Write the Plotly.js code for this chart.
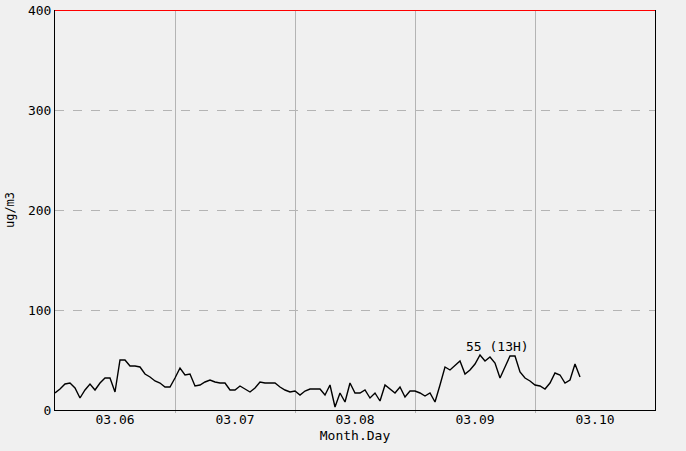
<!DOCTYPE html>
<html>
<head>
<meta charset="utf-8">
<script src="https://cdn.plot.ly/plotly-3.0.1.min.js"></script>
<style>html,body{margin:0;padding:0;background:#f0f0f0;}#chart{width:686px;height:451px;}</style>
</head>
<body>
<div id="chart"></div>
<script>
// hourly values starting at 03.06 00H
const hours = [];
const values = [17,21,26,27,22,12,20,26,20,27,32,32,18,50,50,44,44,43,36,33,29,27,23,23,
  32,42,35,36,24,25,28,30,28,27,27,20,20,24,21,18,22,28,27,27,27,23,20,18,
  19,15,19,21,21,21,15,25,3,17,8,27,17,17,20,12,17,9,25,21,17,23,13,19,
  19,17,14,17,8,25,43,40,45,49,36,40,46,55,49,53,47,32,43,54,54,38,32,29,
  25,24,21,27,37,35,27,30,46,33];
for (let i = 0; i < values.length; i++) hours.push(i);
const dayLabels = ['03.06','03.07','03.08','03.09','03.10'];
const dayCenters = [12,36,60,84,108];
const dayBounds = [24,48,72,96];
const yTicks = [0,100,200,300,400];

let maxI = 0;
values.forEach((v,i)=>{ if (v > values[maxI]) maxI = i; });
const peakLabel = values[maxI] + ' (' + (maxI % 24) + 'H)';

const font = {family: 'DejaVu Sans Mono, monospace', size: 13, color: '#000'};

const traces = [
  {x: hours, y: values, type: 'scatter', mode: 'lines', line: {color: '#000', width: 1.4}, hoverinfo: 'skip'},
  {x: dayCenters, y: dayCenters.map(()=>null), xaxis: 'x2', type: 'scatter', mode: 'lines', hoverinfo: 'skip'}
];

const layout = {
  width: 686, height: 451,
  margin: {l: 55, r: 31, t: 10, b: 41},
  paper_bgcolor: '#f0f0f0', plot_bgcolor: '#f0f0f0',
  showlegend: false,
  font: font,
  xaxis: {
    range: [0, 120], tickvals: dayBounds, ticktext: dayBounds.map(()=>''),
    showgrid: true, gridcolor: '#b4b4b4', gridwidth: 1,
    showline: true, linecolor: '#000', linewidth: 1, mirror: false,
    ticks: 'outside', ticklen: 2, tickcolor: '#b4b4b4', zeroline: false
  },
  xaxis2: {
    range: [0, 120], overlaying: 'x', anchor: 'y', side: 'bottom',
    tickvals: dayCenters, ticktext: dayLabels, showgrid: false, zeroline: false,
    ticks: '', tickfont: font, showline: false, automargin: false,
    title: {text: 'Month.Day', font: font, standoff: 4}
  },
  yaxis: {
    range: [0, 400], tickvals: yTicks,
    showgrid: true, gridcolor: '#b4b4b4', griddash: 'dash', gridwidth: 1,
    showline: true, linecolor: '#000', linewidth: 1, mirror: true,
    ticks: '', zeroline: false, tickfont: font,
    title: {text: 'ug/m3', font: {family: 'DejaVu Sans Mono, monospace', size: 12, color: '#000'}, standoff: 10}
  },
  shapes: [
    {type: 'line', xref: 'paper', yref: 'y', x0: 0, x1: 1, y0: 400, y1: 400, line: {color: '#ff0000', width: 2}, layer: 'above'}
  ],
  annotations: [
    {x: hours[maxI], y: values[maxI], xref: 'x', yref: 'y', text: peakLabel, showarrow: false,
     xanchor: 'left', yanchor: 'bottom', xshift: -16, yshift: -1, font: {family: 'DejaVu Sans Mono, monospace', size: 13, color: '#000'}}
  ]
};

Plotly.newPlot('chart', traces, layout, {displayModeBar: false, staticPlot: true});
</script>
</body>
</html>
